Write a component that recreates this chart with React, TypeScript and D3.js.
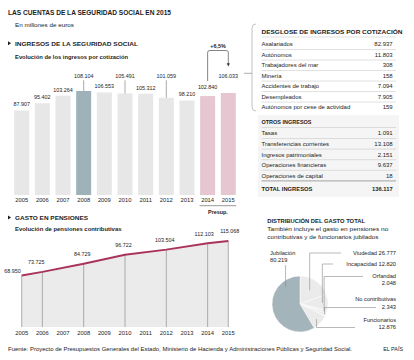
import React from 'react';
import * as d3 from 'd3';

// ---------- DATA ----------
const years = ['2005', '2006', '2007', '2008', '2009', '2010', '2011', '2012', '2013', '2014', '2015'];
const ingresosCotizacion = [87907, 95402, 103264, 108104, 106553, 105491, 105312, 101059, 98210, 102840, 106033];

const pensionYears = ['2005', '2006', '2008', '2010', '2012', '2014', '2015'];
const pensionValues = [68950, 73725, 84729, 96722, 103504, 112103, 115068];

const desgloseLabels = ['Asalariados', 'Autónomos', 'Trabajadores del mar', 'Minería', 'Accidentes de trabajo', 'Desempleados', 'Autónomos por cese de actividad'];
const desgloseValues = [82937, 11803, 308, 158, 7094, 7905, 159];

const otrosLabels = ['Tasas', 'Transferencias corrientes', 'Ingresos patrimoniales', 'Operaciones financieras', 'Operaciones de capital'];
const otrosValues = [1091, 13108, 2151, 9637, 18];
const totalIngresos = 136117;

const gastoLabels = ['Viudedad', 'Incapacidad', 'Orfandad', 'No contributivas', 'Funcionarios', 'Jubilación'];
const gastoValues = [26777, 12820, 2048, 2343, 12876, 80219];

const variacion = '+6,5%';

// ---------- STYLE ----------
const FONT = "'Liberation Sans', Arial, sans-serif";
const INK = '#1c1c1c';
const fmt = d3.formatLocale({ decimal: ',', thousands: '.', grouping: [3], currency: ['', ''] }).format(',d');

type TP = { x: number; y: number; s?: number; b?: boolean; a?: 'start' | 'middle' | 'end'; len?: number; fill?: string; children: React.ReactNode };
const T = ({ x, y, s = 6, b = false, a = 'start', len, fill = INK, children }: TP) => (
  <text x={x} y={y} dy="0.35em" fontSize={s} fontWeight={b ? 700 : 400} textAnchor={a} fill={fill}
    {...(len ? { textLength: len, lengthAdjust: 'spacingAndGlyphs' } : {})}>{children}</text>
);

export default function App() {
  // Bars
  const x = d3.scalePoint<string>().domain(years).range([21.7, 228.3]);
  const barW = 15;
  const yBase = 195;
  const y = d3.scaleLinear().domain([0, 110000]).range([yBase, yBase - 110 * 0.962]);
  const barColor = (yr: string) => (yr === '2008' ? '#9fb1b9' : yr === '2014' || yr === '2015' ? '#e6c6d0' : '#e7e7e7');
  const raisedHigh = new Set(['2008', '2010', '2012', '2015']);
  const withLeader = new Set(['2008', '2010', '2012']);
  const labelCy = (yr: string, v: number) => (raisedHigh.has(yr) ? 76.5 : yr === '2014' ? 87 : y(v) - 6);

  const x14 = x('2014')!, x15 = x('2015')!;

  // Pension
  const pBase = 327;
  const yp = d3.scaleLinear().domain([0, 120000]).range([pBase, pBase - 120 * 0.747]);
  const pData = pensionYears.map((yr, i) => ({ yr, v: pensionValues[i] }));
  const area = d3.area<{ yr: string; v: number }>().x(d => x(d.yr)!).y0(pBase).y1(d => yp(d.v));
  const line = d3.line<{ yr: string; v: number }>().x(d => x(d.yr)!).y(d => yp(d.v));
  const pLabelDx = [0, -6, -1.5, -1.5, -1.5, -3.5, 1.5];

  // Pie
  const cx = 300, cy = 304, r = 28;
  const pie = d3.pie<number>().sort(null).startAngle(0).endAngle(2 * Math.PI)(gastoValues);
  const arc = d3.arc<d3.PieArcDatum<number>>().innerRadius(0).outerRadius(r);
  const at = (ang: number, rr: number) => [cx + rr * Math.sin(ang), cy - rr * Math.cos(ang)];
  const mid = (d: d3.PieArcDatum<number>) => (d.startAngle + d.endAngle) / 2;
  const callouts = [
    { rf: 0.6, elbowY: 253, endX: 341, lines: [`${gastoLabels[0]}  ${fmt(gastoValues[0])}`] },
    { rf: 0.8, elbowY: 264, endX: 333, lines: [`${gastoLabels[1]}  ${fmt(gastoValues[1])}`] },
    { rf: 0.9, elbowY: 276.5, endX: 363, lines: [gastoLabels[2], fmt(gastoValues[2])] },
    { rf: 0.95, elbowY: 307.5, endX: 376, lines: [gastoLabels[3], fmt(gastoValues[3])] },
    { rf: 0.8, elbowY: 327.5, endX: 355, lines: [gastoLabels[4], fmt(gastoValues[4])] },
  ];
  const jub = at(-0.7, r * 0.8);

  const sep = '#c9c9c9';

  return (
    <svg width={414} height={360} viewBox="0 0 414 360" style={{ position: 'absolute', left: 0, top: 0, background: '#fff' }} fontFamily={FONT}>
      <rect width={414} height={360} fill="#fff" />
      {/* Headings */}
      <T x={8} y={12.5} s={6.4} b len={163}>LAS CUENTAS DE LA SEGURIDAD SOCIAL EN 2015</T>
      <T x={15} y={25} s={5.8} len={59}>En millones de euros</T>
      <path d="M8,41.3 L11,43.3 L8,45.3 Z" fill={INK} />
      <T x={15} y={43.4} s={6} b len={123}>INGRESOS DE LA SEGURIDAD SOCIAL</T>
      <T x={15} y={57.4} s={5.6} b len={113}>Evolución de los ingresos por cotización</T>

      {/* Bars */}
      {years.map((yr, i) => {
        const v = ingresosCotizacion[i];
        const bx = x(yr)!;
        const lc = labelCy(yr, v);
        return (
          <g key={yr}>
            <rect x={bx - barW / 2} y={y(v)} width={barW} height={yBase - y(v)} fill={barColor(yr)} />
            {withLeader.has(yr) && <line x1={bx} x2={bx} y1={lc + 3.8} y2={y(v)} stroke="#555" strokeWidth={0.5} />}
            <T x={bx} y={lc} s={5.4} a="middle">{fmt(v)}</T>
            <T x={bx} y={199.5} s={5.8} a="middle">{yr}</T>
          </g>
        );
      })}
      <line x1={x14 - 8} x2={x15 + 8} y1={205.7} y2={205.7} stroke="#555" strokeWidth={0.6} />
      <T x={(x14 + x15) / 2} y={212.6} s={5.4} b a="middle">Presup.</T>

      {/* +6,5% bracket */}
      <path d={`M${x14},81 L${x14},52.5 Q${x14},50.5 ${x14 + 2},50.5 L${x15 - 2},50.5 Q${x15},50.5 ${x15},52.5 L${x15},64`} fill="none" stroke="#333" strokeWidth={0.6} />
      <path d={`M${x15 - 1.6},63.3 L${x15 + 1.6},63.3 L${x15},66.5 Z`} fill="#333" />
      <T x={(x14 + x15) / 2} y={45.8} s={5.4} b a="middle">{variacion}</T>

      {/* connector + table bracket */}
      <line x1={244} x2={252} y1={73.3} y2={73.3} stroke="#777" strokeWidth={0.6} />
      <path d="M256,24 Q252,24 252,28 L252,107 Q252,111 256,111" fill="none" stroke="#9a9a9a" strokeWidth={0.6} />

      {/* Desglose table */}
      <T x={261.5} y={31.5} s={6.2} b len={141}>DESGLOSE DE INGRESOS POR COTIZACIÓN</T>
      <line x1={261.5} x2={396} y1={37} y2={37} stroke={sep} strokeWidth={0.6} />
      {desgloseLabels.map((lab, i) => {
        const ry = 44.3 + i * 10.5;
        return (
          <g key={lab}>
            <T x={261.5} y={ry} s={6}>{lab}</T>
            <T x={392.7} y={ry} s={6} a="end">{fmt(desgloseValues[i])}</T>
            {i < desgloseLabels.length - 1 && <line x1={261.5} x2={396} y1={ry + 5.25} y2={ry + 5.25} stroke={sep} strokeWidth={0.6} />}
          </g>
        );
      })}

      {/* Otros ingresos */}
      <rect x={258} y={115} width={141} height={82} fill="#f5f5f5" />
      <T x={261.5} y={121.5} s={6} b len={50}>OTROS INGRESOS</T>
      <line x1={261.5} x2={396} y1={127.5} y2={127.5} stroke={sep} strokeWidth={0.6} />
      {otrosLabels.map((lab, i) => {
        const ry = 133.2 + i * 10.6;
        return (
          <g key={lab}>
            <T x={261.5} y={ry} s={6}>{lab}</T>
            <T x={392.7} y={ry} s={6} a="end">{fmt(otrosValues[i])}</T>
            <line x1={261.5} x2={396} y1={ry + 5.3} y2={ry + 5.3} stroke={i === otrosLabels.length - 1 ? '#9a9a9a' : sep} strokeWidth={i === otrosLabels.length - 1 ? 0.9 : 0.6} />
          </g>
        );
      })}
      <T x={261.5} y={189} s={5.8} b>TOTAL INGRESOS</T>
      <T x={392.7} y={189} s={5.8} b a="end">{fmt(totalIngresos)}</T>

      {/* Pensiones */}
      <path d="M8,215.5 L11,217.5 L8,219.5 Z" fill={INK} />
      <T x={15} y={217.6} s={6} b len={73}>GASTO EN PENSIONES</T>
      <T x={15} y={228.6} s={5.6} b len={106.5}>Evolución de pensiones contributivas</T>
      <path d={area(pData)!} fill="#ebebeb" />
      {pData.map(d => (
        <line key={d.yr} x1={x(d.yr)} x2={x(d.yr)} y1={yp(d.v)} y2={pBase} stroke="#9a9a9a" strokeWidth={0.8} />
      ))}
      <path d={line(pData)!} fill="none" stroke="#a9335b" strokeWidth={1.9} />
      {pData.map((d, i) => {
        const px = x(d.yr)!;
        if (i === 0) return <T key={d.yr} x={px - 1} y={yp(d.v) - 4.5} s={5.4} a="end">{fmt(d.v)}</T>;
        return <T key={d.yr} x={px + pLabelDx[i]} y={yp(d.v) - 9.5} s={5.4} a="middle">{fmt(d.v)}</T>;
      })}
      {years.map(yr => (
        <T key={yr} x={x(yr)!} y={333.2} s={5.8} a="middle">{yr}</T>
      ))}

      {/* Pie */}
      <T x={267.3} y={221.3} s={5.8} b len={97.7}>DISTRIBUCIÓN DEL GASTO TOTAL</T>
      <T x={267.3} y={229} s={5.6} len={121}>También incluye el gasto en pensiones no</T>
      <T x={267.3} y={236.7} s={5.6} len={111}>contributivas y de funcionarios jubilados</T>
      <g transform={`translate(${cx},${cy})`}>
        {pie.map((d, i) => (
          <path key={i} d={arc(d)!} fill={i === 5 ? '#a4b4bb' : '#ebebeb'} stroke="#fff" strokeWidth={0.5} />
        ))}
      </g>
      {callouts.map((c, i) => {
        const [sx, sy] = at(mid(pie[i]), r * c.rf);
        return (
          <g key={i}>
            <path d={`M${sx},${sy} L${sx},${c.elbowY} L${c.endX},${c.elbowY}`} fill="none" stroke="#8a8a8a" strokeWidth={0.6} />
            {c.lines.map((t, k) => (
              <T key={k} x={396} y={c.lines.length === 1 ? c.elbowY : c.elbowY - 7.5 + k * 7.5 + (i === 2 ? 7 : i === 3 ? -0.5 : 0)} s={5.7} a="end">{t}</T>
            ))}
          </g>
        );
      })}
      <line x1={jub[0]} x2={jub[0]} y1={265} y2={jub[1]} stroke="#8a8a8a" strokeWidth={0.6} />
      <T x={270} y={252.7} s={5.7}>{gastoLabels[5]}</T>
      <T x={270} y={260.2} s={5.7}>{fmt(gastoValues[5])}</T>

      {/* Footer */}
      <T x={8} y={349} s={5.2} len={344}>Fuente: Proyecto de Presupuestos Generales del Estado, Ministerio de Hacienda y Administraciones Públicas y Seguridad Social.</T>
      <T x={403} y={349} s={5.4} a="end">EL PAÍS</T>
    </svg>
  );
}
